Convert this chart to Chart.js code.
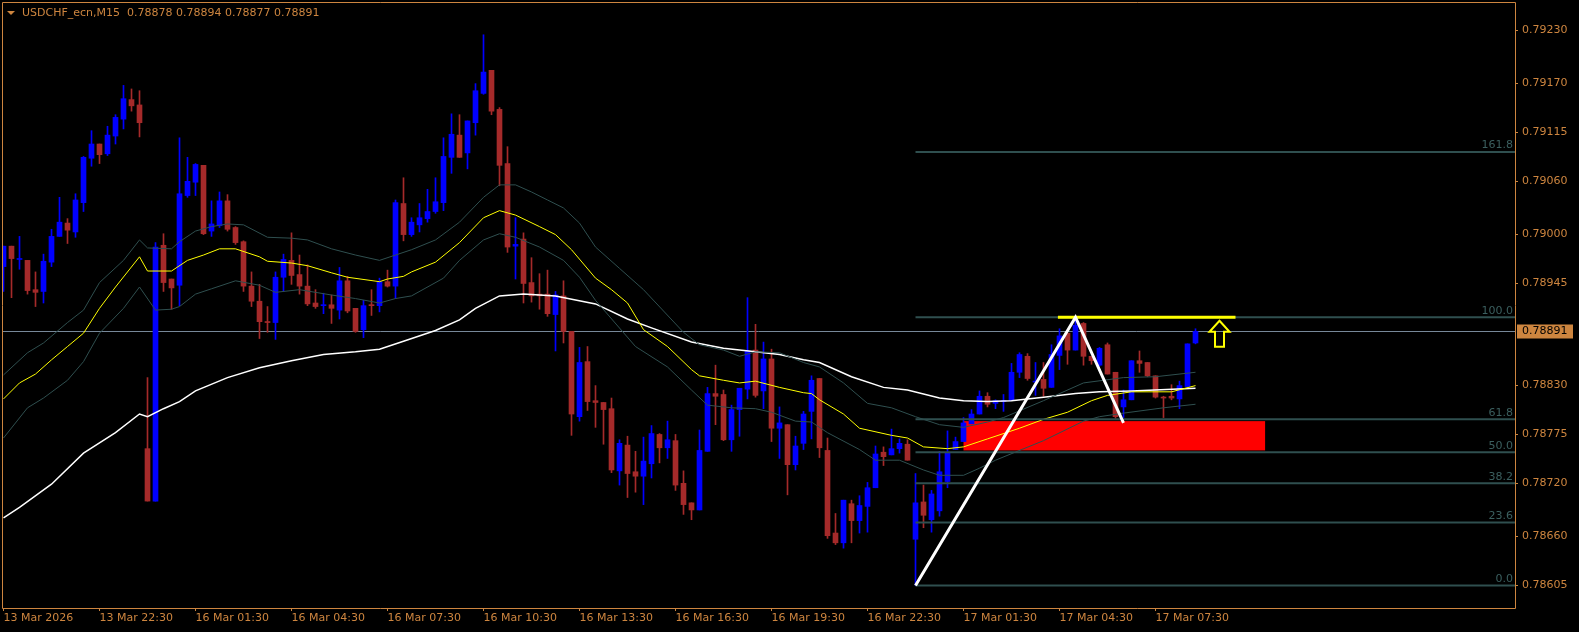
<!DOCTYPE html>
<html><head><meta charset="utf-8">
<script src="https://cdn.jsdelivr.net/npm/chart.js@4.4.1/dist/chart.umd.min.js"></script>
<style>html,body{margin:0;padding:0;background:#000;overflow:hidden}canvas{display:block}</style>
</head><body>
<canvas id="c" width="1579" height="632"></canvas>
<script>
const symbolTitle = "USDCHF_ecn,M15  0.78878 0.78894 0.78877 0.78891";

const opens = [0.78964,0.78987,0.78972,0.78971,0.78938,0.78936,0.78969,0.78998,0.79013,0.79003,
0.79036,0.79086,0.79102,0.79091,0.79111,0.79130,0.79152,0.79146,0.78759,0.78700,
0.78988,0.78950,0.78943,0.79044,0.79059,0.79078,0.79004,0.79010,0.79038,0.79008,
0.78992,0.78942,0.78925,0.78902,0.78901,0.78952,0.78971,0.78955,0.78942,0.78923,
0.78920,0.78921,0.78915,0.78948,0.78917,0.78893,0.78921,0.78920,0.78947,0.78942,
0.79035,0.79000,0.79011,0.79018,0.79026,0.79036,0.79087,0.79112,0.79092,0.79126,
0.79159,0.79185,0.79141,0.79080,0.78987,0.78995,0.78946,0.78933,0.78933,0.78910,
0.78931,0.78891,0.78795,0.78857,0.78813,0.78811,0.78804,0.78734,0.78763,0.78733,
0.78728,0.78742,0.78775,0.78760,0.78768,0.78720,0.78698,0.78690,0.78756,0.78821,
0.78820,0.78769,0.78803,0.78826,0.78870,0.78824,0.78860,0.78782,0.78786,0.78741,
0.78765,0.78801,0.78838,0.78757,0.78664,0.78653,0.78697,0.78678,0.78694,0.78715,
0.78755,0.78752,0.78759,0.78764,0.78657,0.78699,0.78679,0.78689,0.78722,0.78758,
0.78767,0.78787,0.78798,0.78818,0.78810,0.78812,0.78813,0.78845,0.78863,0.78834,
0.78837,0.78828,0.78864,0.78889,0.78870,0.78900,0.78863,0.78853,0.78876,0.78845,
0.78806,0.78814,0.78858,0.78856,0.78841,0.78817,0.78818,0.78815,0.78829,0.78878];

const highs = [0.78987,0.78987,0.78998,0.78971,0.78958,0.78978,0.79006,0.79042,0.79018,0.79046,
0.79088,0.79117,0.79102,0.79122,0.79135,0.79168,0.79164,0.79162,0.78839,0.78991,
0.79001,0.78950,0.79109,0.79087,0.79080,0.79078,0.79038,0.79048,0.79045,0.79009,
0.78993,0.78958,0.78944,0.78919,0.78958,0.78978,0.79002,0.78977,0.78966,0.78938,
0.78934,0.78932,0.78963,0.78953,0.78917,0.78926,0.78938,0.78951,0.78960,0.79039,
0.79064,0.79019,0.79035,0.79051,0.79064,0.79109,0.79136,0.79135,0.79128,0.79170,
0.79225,0.79185,0.79143,0.79099,0.79019,0.79002,0.78974,0.78956,0.78960,0.78936,
0.78948,0.78891,0.78873,0.78874,0.78830,0.78811,0.78816,0.78769,0.78773,0.78756,
0.78772,0.78785,0.78776,0.78790,0.78775,0.78734,0.78698,0.78780,0.78828,0.78853,
0.78825,0.78808,0.78827,0.78929,0.78899,0.78879,0.78871,0.78806,0.78786,0.78773,
0.78801,0.78841,0.78838,0.78771,0.78686,0.78701,0.78701,0.78706,0.78721,0.78762,
0.78761,0.78781,0.78770,0.78769,0.78731,0.78718,0.78712,0.78756,0.78779,0.78772,
0.78794,0.78803,0.78824,0.78822,0.78814,0.78820,0.78855,0.78867,0.78866,0.78856,
0.78856,0.78876,0.78894,0.78889,0.78907,0.78901,0.78863,0.78873,0.78878,0.78845,
0.78825,0.78858,0.78869,0.78856,0.78841,0.78818,0.78831,0.78835,0.78877,0.78894];

const lows = [0.78936,0.78929,0.78961,0.78933,0.78919,0.78923,0.78964,0.78998,0.78990,0.78997,
0.79026,0.79077,0.79080,0.79089,0.79102,0.79119,0.79139,0.79110,0.78700,0.78700,
0.78936,0.78916,0.78920,0.79042,0.79044,0.79000,0.78998,0.79008,0.79004,0.78989,
0.78936,0.78919,0.78883,0.78890,0.78882,0.78936,0.78944,0.78933,0.78920,0.78917,
0.78911,0.78900,0.78905,0.78912,0.78890,0.78884,0.78909,0.78913,0.78941,0.78928,
0.78993,0.78998,0.79003,0.79014,0.79024,0.79027,0.79069,0.79087,0.79074,0.79112,
0.79158,0.79135,0.79055,0.78980,0.78950,0.78923,0.78924,0.78916,0.78908,0.78869,
0.78878,0.78774,0.78790,0.78802,0.78783,0.78764,0.78732,0.78718,0.78704,0.78710,
0.78696,0.78726,0.78743,0.78748,0.78712,0.78685,0.78679,0.78690,0.78756,0.78786,
0.78768,0.78756,0.78773,0.78815,0.78817,0.78804,0.78767,0.78748,0.78707,0.78735,
0.78758,0.78770,0.78749,0.78658,0.78651,0.78647,0.78653,0.78664,0.78665,0.78715,
0.78740,0.78752,0.78754,0.78746,0.78605,0.78670,0.78665,0.78683,0.78715,0.78758,
0.78767,0.78787,0.78798,0.78806,0.78804,0.78801,0.78813,0.78839,0.78836,0.78819,
0.78818,0.78828,0.78848,0.78854,0.78870,0.78853,0.78854,0.78852,0.78843,0.78793,
0.78794,0.78814,0.78845,0.78840,0.78816,0.78794,0.78814,0.78804,0.78829,0.78877];

const closes = [0.78987,0.78973,0.78973,0.78937,0.78935,0.78970,0.78998,0.79014,0.79005,0.79039,
0.79087,0.79102,0.79090,0.79112,0.79132,0.79153,0.79145,0.79126,0.78700,0.78986,
0.78946,0.78940,0.79046,0.79060,0.79079,0.79001,0.79012,0.79038,0.79006,0.78991,
0.78942,0.78925,0.78902,0.78901,0.78952,0.78972,0.78954,0.78942,0.78922,0.78919,
0.78921,0.78917,0.78948,0.78914,0.78891,0.78920,0.78920,0.78947,0.78942,0.79036,
0.79000,0.79014,0.79019,0.79026,0.79037,0.79088,0.79113,0.79087,0.79128,0.79162,
0.79183,0.79139,0.79078,0.78986,0.78989,0.78945,0.78931,0.78931,0.78911,0.78932,
0.78891,0.78798,0.78856,0.78812,0.78811,0.78803,0.78735,0.78765,0.78731,0.78728,
0.78745,0.78776,0.78760,0.78769,0.78718,0.78696,0.78690,0.78757,0.78821,0.78818,
0.78769,0.78803,0.78827,0.78869,0.78819,0.78860,0.78782,0.78788,0.78741,0.78762,
0.78798,0.78836,0.78760,0.78661,0.78653,0.78701,0.78678,0.78695,0.78715,0.78753,
0.78750,0.78759,0.78765,0.78746,0.78698,0.78684,0.78708,0.78733,0.78754,0.78767,
0.78788,0.78798,0.78818,0.78809,0.78813,0.78813,0.78845,0.78865,0.78838,0.78835,
0.78827,0.78865,0.78886,0.78870,0.78898,0.78863,0.78858,0.78872,0.78843,0.78795,
0.78814,0.78858,0.78855,0.78841,0.78817,0.78816,0.78816,0.78830,0.78877,0.78891];

const timeTickBars = [0,12,24,36,48,60,72,84,96,108,120,132,144];
const timeTickLabels = ["13 Mar 2026","13 Mar 22:30","16 Mar 01:30","16 Mar 04:30","16 Mar 07:30","16 Mar 10:30","16 Mar 13:30","16 Mar 16:30","16 Mar 19:30","16 Mar 22:30","17 Mar 01:30","17 Mar 04:30","17 Mar 07:30"];
const priceTickLabels = ["0.79230","0.79170","0.79115","0.79060","0.79000","0.78945","0.78830","0.78775","0.78720","0.78660","0.78605"];

const whiteMaBars = [0,2,6,10,14,17,18,20,22,24,28,32,36,40,44,47,50,54,57,59,62,65,69,74,78,81,86,90,94,97,100,102,106,110,113,117,120,123,126,130,134,137,141,149];
const whiteMa = [0.78681,0.78693,0.78719,0.78754,0.78777,0.78798,0.78795,0.78804,0.78812,0.78824,0.78839,0.78850,0.78858,0.78865,0.78868,0.78871,0.78880,0.78892,0.78904,0.78917,0.78931,0.78933,0.78931,0.78922,0.78905,0.78895,0.78879,0.78872,0.78868,0.78865,0.78859,0.78856,0.78840,0.78828,0.78825,0.78816,0.78813,0.78812,0.78813,0.78817,0.78821,0.78823,0.78824,0.78827];

const yellowMaBars = [0,2,4,6,8,10,12,14,17,18,21,23,25,27,29,32,33,36,38,41,43,47,48,50,51,54,57,60,62,64,67,69,71,74,76,78,80,83,86,87,90,92,94,97,100,101,102,105,107,111,113,115,118,120,123,127,130,133,136,138,141,146,149];
const yellowMa = [0.78815,0.78833,0.78843,0.78859,0.78874,0.78889,0.78917,0.78941,0.78975,0.78959,0.78959,0.78971,0.78977,0.78984,0.78984,0.78975,0.78970,0.78968,0.78965,0.78957,0.78952,0.78947,0.78950,0.78953,0.78958,0.78969,0.78991,0.79019,0.79027,0.79022,0.79009,0.79000,0.78983,0.78951,0.78938,0.78923,0.78893,0.78874,0.78848,0.78841,0.78836,0.78833,0.78835,0.78828,0.78822,0.78821,0.78814,0.78798,0.78782,0.78774,0.78771,0.78761,0.78759,0.78761,0.78770,0.78782,0.78792,0.78800,0.78813,0.78819,0.78823,0.78823,0.78830];

const upperBandBars = [0,3,5,8,10,12,15,17,18,21,22,24,26,28,30,33,36,38,41,44,47,49,51,54,57,60,62,64,66,68,70,72,74,77,80,85,87,90,92,94,97,100,102,105,108,111,114,117,120,123,125,130,135,140,144,149];
const upperBand = [0.78842,0.78867,0.78878,0.78901,0.78915,0.78946,0.78971,0.78994,0.78985,0.78984,0.78992,0.79004,0.79009,0.79012,0.79011,0.78997,0.78996,0.78994,0.78984,0.78977,0.78971,0.78977,0.78983,0.78994,0.79014,0.79042,0.79056,0.79056,0.79048,0.79039,0.79030,0.79013,0.78986,0.78962,0.78938,0.78890,0.78876,0.78870,0.78863,0.78868,0.78867,0.78856,0.78851,0.78833,0.78810,0.78805,0.78795,0.78786,0.78783,0.78789,0.78794,0.78813,0.78833,0.78839,0.78840,0.78845];

const lowerBandBars = [0,3,5,8,10,12,15,17,19,21,22,24,26,29,32,34,37,41,44,47,49,51,55,57,60,62,64,67,70,72,74,79,83,86,88,91,94,96,99,101,103,107,109,112,115,117,120,122,124,130,135,137,140,145,149];
const lowerBand = [0.78771,0.78805,0.78816,0.78836,0.78857,0.78889,0.78917,0.78941,0.78915,0.78916,0.78919,0.78933,0.78939,0.78948,0.78943,0.78935,0.78938,0.78932,0.78928,0.78923,0.78928,0.78931,0.78951,0.78971,0.78994,0.79001,0.78997,0.78986,0.78971,0.78952,0.78926,0.78874,0.78851,0.78825,0.78808,0.78805,0.78804,0.78800,0.78790,0.78789,0.78777,0.78758,0.78746,0.78746,0.78735,0.78729,0.78729,0.78737,0.78746,0.78768,0.78790,0.78795,0.78799,0.78805,0.78809];

const fibLabels = ["0.0","23.6","38.2","50.0","61.8","100.0","161.8"];
const fibPrices = [0.78605,0.78676,0.78720,0.78755,0.78792,0.78907,0.79093];
const fibStartBar = 114;
const fibEndBar = 189;

const trendBars = [114,134,140];
const trendPrices = [0.78605,0.78907,0.78788];

const levelLineBars = [131.8,154];
const levelLinePrices = [0.78907,0.78907];

const zoneBars = [120,157.7];
const zonePrices = [0.78757,0.78790];

const arrowBar = 152;
const arrowPrice = 0.78903;

const bidPrice = 0.78891;

// ---------- styles ----------
const FG = '#cd853f';
const BULL = '#0000ff';
const BEAR = '#a52a2a';
const FONT = 'DejaVu Sans';
Chart.defaults.font.family = FONT;
Chart.defaults.font.size = 11;

const candleColors = opens.map((o, i) => closes[i] >= o ? BULL : BEAR);
const wickData = opens.map((o, i) => ({ x: i, y: [lows[i], highs[i]] }));
const bodyData = opens.map((o, i) => ({ x: i, y: [o, closes[i]] }));
const pts = (bars, vals) => bars.map((b, i) => ({ x: b, y: vals[i] }));

const lineDs = (data, color, width, order) => ({
  type: 'line', data, borderColor: color, borderWidth: width, pointRadius: 0,
  tension: 0, fill: false, order, spanGaps: true
});

const datasets = [
  { type: 'bar', data: wickData, backgroundColor: candleColors, barThickness: 1, grouped: false, borderWidth: 0, order: 20 },
  { type: 'bar', data: bodyData, backgroundColor: candleColors, barThickness: 5, grouped: false, borderWidth: 0, minBarLength: 1, order: 19 },
  lineDs(pts(whiteMaBars, whiteMa), '#ffffff', 1.5, 12),
  lineDs(pts(upperBandBars, upperBand), '#2f4f4f', 1, 11),
  lineDs(pts(lowerBandBars, lowerBand), '#2f4f4f', 1, 11),
  lineDs(pts(yellowMaBars, yellowMa), '#ffff00', 1, 10),
];
fibPrices.forEach(p => {
  datasets.push(lineDs([{ x: fibStartBar, y: p }, { x: fibEndBar, y: p }], '#2f4f4f', 2, 5));
});
datasets.push(lineDs(pts(levelLineBars, levelLinePrices), '#ffff00', 3, 3));
datasets.push(lineDs(pts(trendBars, trendPrices), '#ffffff', 3, 2));

const bgPlugin = {
  id: 'bg',
  beforeDraw(ch) {
    const c = ch.ctx; c.save(); c.fillStyle = '#000'; c.fillRect(0, 0, ch.width, ch.height); c.restore();
  }
};

const underlay = {
  id: 'underlay',
  beforeDatasetsDraw(ch) {
    const { ctx, chartArea: a, scales: { x, y } } = ch;
    ctx.save();
    ctx.beginPath(); ctx.rect(a.left, a.top, a.right - a.left, a.bottom - a.top); ctx.clip();
    const yb = Math.round(y.getPixelForValue(bidPrice)) + 0.5;
    ctx.strokeStyle = '#778899'; ctx.lineWidth = 1;
    ctx.beginPath(); ctx.moveTo(a.left, yb); ctx.lineTo(a.right, yb); ctx.stroke();
    const x0 = x.getPixelForValue(zoneBars[0]), x1 = x.getPixelForValue(zoneBars[1]);
    const y0 = y.getPixelForValue(zonePrices[1]), y1 = y.getPixelForValue(zonePrices[0]);
    ctx.fillStyle = '#ff0000';
    ctx.fillRect(x0, y0, x1 - x0, y1 - y0);
    ctx.restore();
  }
};

const overlay = {
  id: 'overlay',
  afterDatasetsDraw(ch) {
    const { ctx, chartArea: a, scales: { x, y } } = ch;
    ctx.save();
    const ax = x.getPixelForValue(arrowBar), ay = y.getPixelForValue(arrowPrice);
    ctx.beginPath();
    ctx.moveTo(ax, ay);
    ctx.lineTo(ax + 10, ay + 11);
    ctx.lineTo(ax + 4.5, ay + 11);
    ctx.lineTo(ax + 4.5, ay + 26);
    ctx.lineTo(ax - 4.5, ay + 26);
    ctx.lineTo(ax - 4.5, ay + 11);
    ctx.lineTo(ax - 10, ay + 11);
    ctx.closePath();
    ctx.strokeStyle = '#ffff00'; ctx.lineWidth = 2; ctx.lineJoin = 'miter';
    ctx.stroke();
    ctx.font = '11px "' + FONT + '"';
    ctx.fillStyle = '#3b5f5f';
    ctx.textAlign = 'right'; ctx.textBaseline = 'bottom';
    fibPrices.forEach((p, i) => {
      const py = y.getPixelForValue(p);
      ctx.fillText(fibLabels[i], a.right - 2, py - 1);
    });
    ctx.restore();
  },
  afterDraw(ch) {
    const { ctx, chartArea: a, scales: { y } } = ch;
    ctx.save();
    ctx.strokeStyle = FG; ctx.lineWidth = 1;
    ctx.beginPath();
    ctx.moveTo(a.left + 0.5, a.top + 0.5); ctx.lineTo(a.right + 0.5, a.top + 0.5);
    ctx.lineTo(a.right + 0.5, a.bottom + 0.5); ctx.lineTo(a.left + 0.5, a.bottom + 0.5);
    ctx.closePath(); ctx.stroke();
    ctx.fillStyle = FG;
    ctx.beginPath(); ctx.moveTo(7, 11); ctx.lineTo(15, 11); ctx.lineTo(11, 15); ctx.closePath(); ctx.fill();
    ctx.font = '11px "' + FONT + '"';
    ctx.textAlign = 'left'; ctx.textBaseline = 'middle';
    ctx.fillText(symbolTitle, 22, 13);
    const yb = Math.round(y.getPixelForValue(bidPrice)) + 0.5;
    ctx.fillStyle = FG;
    ctx.fillRect(a.right + 2, yb - 7, 56, 14);
    ctx.fillStyle = '#000';
    ctx.fillText(bidPrice.toFixed(5), a.right + 7, yb);
    ctx.restore();
  }
};

new Chart(document.getElementById('c'), {
  type: 'bar',
  data: { datasets },
  options: {
    animation: false, responsive: false, maintainAspectRatio: false,
    layout: { padding: { left: 2, top: 2, right: 0, bottom: 0 } },
    plugins: { legend: { display: false }, tooltip: { enabled: false } },
    events: [],
    scales: {
      x: {
        type: 'linear', min: -0.1875, max: 188.9375, offset: false,
        grid: { drawOnChartArea: false, drawTicks: true, tickLength: 3, color: FG, offset: false },
        border: { display: false },
        afterBuildTicks(s) { s.ticks = timeTickBars.map(v => ({ value: v })); },
        afterFit(s) { s.height = 24; s.paddingLeft = 0; s.paddingRight = 0; s.paddingTop = 0; s.paddingBottom = 0; },
        ticks: {
          autoSkip: false, maxRotation: 0, minRotation: 0, align: 'start', padding: 1, color: FG,
          font: { family: FONT, size: 11 },
          callback(v) { const k = timeTickBars.indexOf(v); return k >= 0 ? timeTickLabels[k] : ''; }
        }
      },
      y: {
        type: 'linear', position: 'right', min: 0.785796, max: 0.792619,
        grid: { drawOnChartArea: false, drawTicks: true, tickLength: 3, color: FG },
        border: { display: false },
        afterBuildTicks(s) { s.ticks = priceTickLabels.map(t => ({ value: parseFloat(t) })); },
        afterFit(s) { s.width = 64; s.paddingTop = 0; s.paddingBottom = 0; s.paddingLeft = 0; s.paddingRight = 0; },
        ticks: {
          crossAlign: 'near', padding: 4, color: FG, font: { family: FONT, size: 11 },
          callback(v) { return v.toFixed(5); }
        }
      }
    }
  },
  plugins: [bgPlugin, underlay, overlay]
});
</script>
</body></html>
